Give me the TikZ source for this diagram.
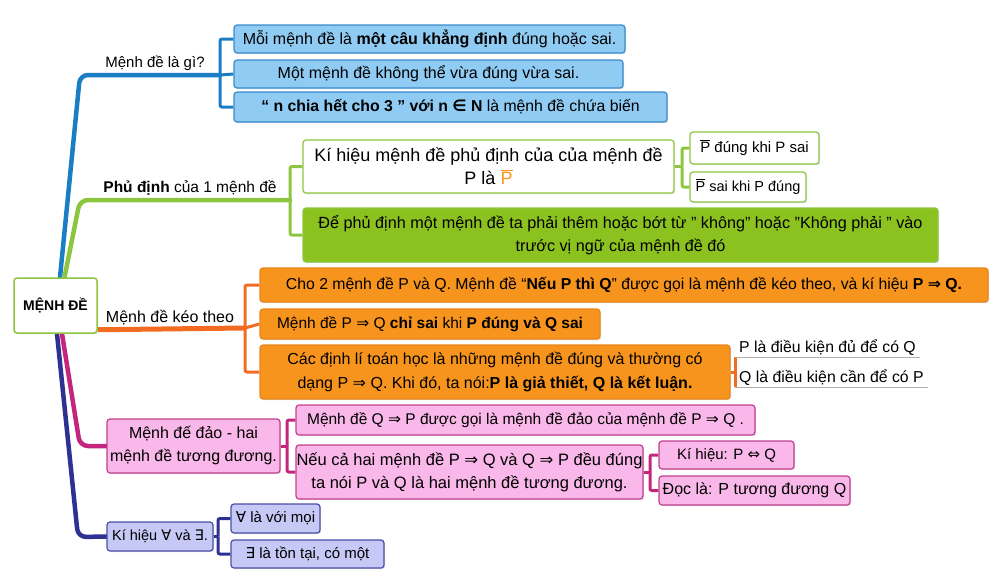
\documentclass[tikz,border=0pt]{standalone}
\usepackage{fontspec}
\setmainfont{Liberation Sans}
\newfontfamily\symf{DejaVu Sans}
\usetikzlibrary{shadows,backgrounds}
\definecolor{bbr}{HTML}{1B7DC4}
\definecolor{bfill}{HTML}{8FCBF2}
\definecolor{bbord}{HTML}{3A8CCB}
\definecolor{gbr}{HTML}{8CC63F}
\definecolor{gfill}{HTML}{8CC21F}
\definecolor{obr}{HTML}{F26B21}
\definecolor{ofill}{HTML}{F7941D}
\definecolor{obord}{HTML}{E8861A}
\definecolor{pbr}{HTML}{C4267E}
\definecolor{pfill}{HTML}{F9B8E9}
\definecolor{pbord}{HTML}{C2408F}
\definecolor{nbr}{HTML}{2E3192}
\definecolor{nfill}{HTML}{C6C8F6}
\definecolor{nbord}{HTML}{4A4FA8}
\definecolor{ugray}{HTML}{B0B0B0}
\newcommand\negP{\leavevmode\hbox{\setbox0\hbox{P}\rlap{\raisebox{\dimexpr\ht0+1.5pt\relax}{\rule{\wd0}{0.6pt}}}\box0}}
\newcommand\imp{{\symf ⇒}}
\newcommand\eqv{{\symf ⇔}}
\tikzset{
  mbox/.style={draw, rounded corners=3pt, line width=1.2pt, inner sep=0pt, align=center,
    drop shadow={shadow xshift=1.2pt, shadow yshift=-1.2pt, opacity=0.25}},
  bluebox/.style={mbox, fill=bfill, draw=bbord},
  greenw/.style={mbox, fill=white, draw=gbr},
  greenf/.style={mbox, fill=gfill, draw=gbr},
  orangebox/.style={mbox, fill=ofill, draw=obord},
  pinkbox/.style={mbox, fill=pfill, draw=pbord},
  navybox/.style={mbox, fill=nfill, draw=nbord},
  lab/.style={inner sep=0pt, font=\fontsize{15}{18}\selectfont},
  mainbr/.style={line width=4.5pt, rounded corners=8pt, line cap=round},
  subbr/.style={line width=3pt, rounded corners=2pt},
}
\begin{document}
\begin{tikzpicture}[x=1pt,y=-1pt]
\useasboundingbox (0,0) rectangle (1003,579);
% root
\node[mbox, fill=white, draw=gbr, line width=1.5pt, minimum width=83pt, minimum height=55pt,
  font=\fontsize{14}{17}\selectfont\bfseries] (root) at (55.5,305.5) {MỆNH ĐỀ};
% blue
\node[bluebox, minimum width=391pt, minimum height=28pt, font=\fontsize{16}{19}\selectfont] (b1) at (429.5,39)
  {Mỗi mệnh đề là \textbf{một câu khẳng định} đúng hoặc sai.};
\node[bluebox, minimum width=389pt, minimum height=28pt, font=\fontsize{16}{19}\selectfont] (b2) at (428.5,74)
  {Một mệnh đề không thể vừa đúng vừa sai.};
\node[bluebox, minimum width=433pt, minimum height=30pt, font=\fontsize{15.8}{18}\selectfont] (b3) at (450.5,107)
  {\textbf{“ n chia hết cho 3 ” với n {\symf ∈} N} là mệnh đề chứa biến};
\node[lab] (lb) at (155,63) {Mệnh đề là gì?};
\coordinate (bJ) at (220,75);
% green
\node[greenw, minimum width=371pt, minimum height=53pt, font=\fontsize{18}{23}\selectfont] (g1) at (488.5,166.5)
  {Kí hiệu mệnh đề phủ định của của mệnh đề\\P là {\color{ofill}\negP}};
\node[greenf, minimum width=635pt, minimum height=54pt, font=\fontsize{16.2}{23}\selectfont] (g2) at (620.5,235)
  {Để phủ định một mệnh đề ta phải thêm hoặc bớt từ " không" hoặc "Không phải " vào\\trước vị ngữ của mệnh đề đó};
\node[greenw, minimum width=129pt, minimum height=32pt, font=\fontsize{15}{18}\selectfont] (g3) at (754.5,148)
  {\negP{} đúng khi P sai};
\node[greenw, minimum width=116pt, minimum height=30pt, font=\fontsize{14.5}{18}\selectfont] (g4) at (748,187)
  {\negP{} sai khi P đúng};
\node[lab, font=\fontsize{15.5}{18}\selectfont] (lg) at (190,188) {\textbf{Phủ định} của 1 mệnh đề};
\coordinate (gJ) at (290,200);
\coordinate (gJ2) at (682,166.5);
% orange
\node[orangebox, minimum width=728pt, minimum height=34pt, font=\fontsize{15.8}{18}\selectfont] (o1) at (624,285)
  {Cho 2 mệnh đề P và Q. Mệnh đề “\textbf{Nếu P thì Q}” được gọi là mệnh đề kéo theo, và kí hiệu \textbf{P \imp{} Q.}};
\node[orangebox, minimum width=340pt, minimum height=30pt, font=\fontsize{15.5}{18}\selectfont] (o2) at (430,324)
  {Mệnh đề P \imp{} Q \textbf{chỉ sai} khi \textbf{P đúng và Q sai}};
\node[orangebox, minimum width=470pt, minimum height=54pt, font=\fontsize{16}{24}\selectfont] (o3) at (495,372)
  {Các định lí toán học là những mệnh đề đúng và thường có\\dạng P \imp{} Q. Khi đó, ta nói:\textbf{P là giả thiết, Q là kết luận.}};
\node[lab, font=\fontsize{16}{18}\selectfont] (lo) at (170,318) {Mệnh đề kéo theo};
\coordinate (oJ) at (245,328);
\coordinate (oJ2t) at (735,357);
\coordinate (oJ2b) at (735,387);
\node[lab, anchor=base west, font=\fontsize{15.8}{17}\selectfont] (ou1) at (739,352) {P là điều kiện đủ để có Q};
\node[lab, anchor=base west, font=\fontsize{15.8}{17}\selectfont] (ou2) at (739,382) {Q là điều kiện cần để có P};
% pink
\node[pinkbox, minimum width=173pt, minimum height=54pt, font=\fontsize{16}{23}\selectfont] (p0) at (193.5,446)
  {Mệnh đế đảo - hai\\mệnh đề tương đương.};
\node[pinkbox, minimum width=459pt, minimum height=30pt, font=\fontsize{15.5}{18}\selectfont] (p1) at (525.5,420)
  {Mệnh đề Q \imp{} P được gọi là mệnh đề đảo của mệnh đề P \imp{} Q .};
\node[pinkbox, minimum width=347pt, minimum height=54pt, font=\fontsize{16.5}{23}\selectfont] (p2) at (469.5,472)
  {Nếu cả hai mệnh đề P \imp{} Q và Q \imp{} P đều đúng\\ta nói P và Q là hai mệnh đề tương đương.};
\node[pinkbox, minimum width=135pt, minimum height=28pt, font=\fontsize{15}{18}\selectfont] (p3) at (726.5,455)
  {Kí hiệu: P \eqv{} Q};
\node[pinkbox, minimum width=191pt, minimum height=29pt, font=\fontsize{16}{19}\selectfont] (p4) at (754.5,490.5)
  {Đọc là: P tương đương Q};
\coordinate (pJ) at (287,446);
\coordinate (pJ2) at (650,472);
% navy
\node[navybox, minimum width=106pt, minimum height=29pt, font=\fontsize{14.5}{18}\selectfont] (n0) at (160,536.5)
  {Kí hiệu {\symf ∀} và {\symf ∃}.};
\node[navybox, minimum width=89pt, minimum height=29pt, font=\fontsize{15}{18}\selectfont] (n1) at (275.5,518.5)
  {{\symf ∀} là với mọi};
\node[navybox, minimum width=153pt, minimum height=28pt, font=\fontsize{15}{18}\selectfont] (n2) at (307.5,554)
  {{\symf ∃} là tồn tại, có một};
\coordinate (nJ) at (218,536.5);
% connectors
\begin{scope}[on background layer]
  \draw[mainbr, bbr] ([xshift=4.5pt]root.north) -- (80,75) -- (bJ);
  \draw[mainbr, gbr] ([xshift=9pt]root.north) -- (80,200) -- (gJ);
  \draw[mainbr, nbr] ([xshift=1.5pt]root.south) -- (78,537) -- (n0.west);
  \draw[mainbr, pbr] ([xshift=6.5pt]root.south) -- (80,446) -- (p0.west);
  \draw[line width=5pt, obr] ([yshift=4pt]root.south east) -- (oJ);
  \draw[subbr, bbr] (bJ) |- (b1.west);
  \draw[subbr, bbr] (bJ) |- (b3.west);
  \draw[subbr, bbr] (bJ) -- (b2.west);
  \draw[subbr, gbr] (gJ) |- (g1.west);
  \draw[subbr, gbr] (gJ) |- (g2.west);
  \draw[subbr, gbr] (g1.east) -- (gJ2);
  \draw[subbr, gbr] (gJ2) |- (g3.west);
  \draw[subbr, gbr] (gJ2) |- (g4.west);
  \draw[subbr, obr] (oJ) |- (o1.west);
  \draw[subbr, obr] (oJ) |- (o3.west);
  \draw[subbr, obr] (oJ) -- (o2.west);
  \draw[subbr, obr] (oJ2t) -- (oJ2b);
  \draw[subbr, obr] (o3.east) -- (o3.east -| oJ2t);
  \draw[line width=1pt, ugray] (oJ2t) -- ([xshift=4pt]oJ2t -| ou1.east);
  \draw[line width=1pt, ugray] (oJ2b) -- ([xshift=4pt]oJ2b -| ou2.east);
  \draw[subbr, pbr] (p0.east) -- (pJ);
  \draw[subbr, pbr] (pJ) |- (p1.west);
  \draw[subbr, pbr] (pJ) |- (p2.west);
  \draw[subbr, pbr] (p2.east) -- (pJ2);
  \draw[subbr, pbr] (pJ2) |- (p3.west);
  \draw[subbr, pbr] (pJ2) |- (p4.west);
  \draw[subbr, nbr] (n0.east) -- (nJ);
  \draw[subbr, nbr] (nJ) |- (n1.west);
  \draw[subbr, nbr] (nJ) |- (n2.west);
\end{scope}
\end{tikzpicture}
\end{document}
